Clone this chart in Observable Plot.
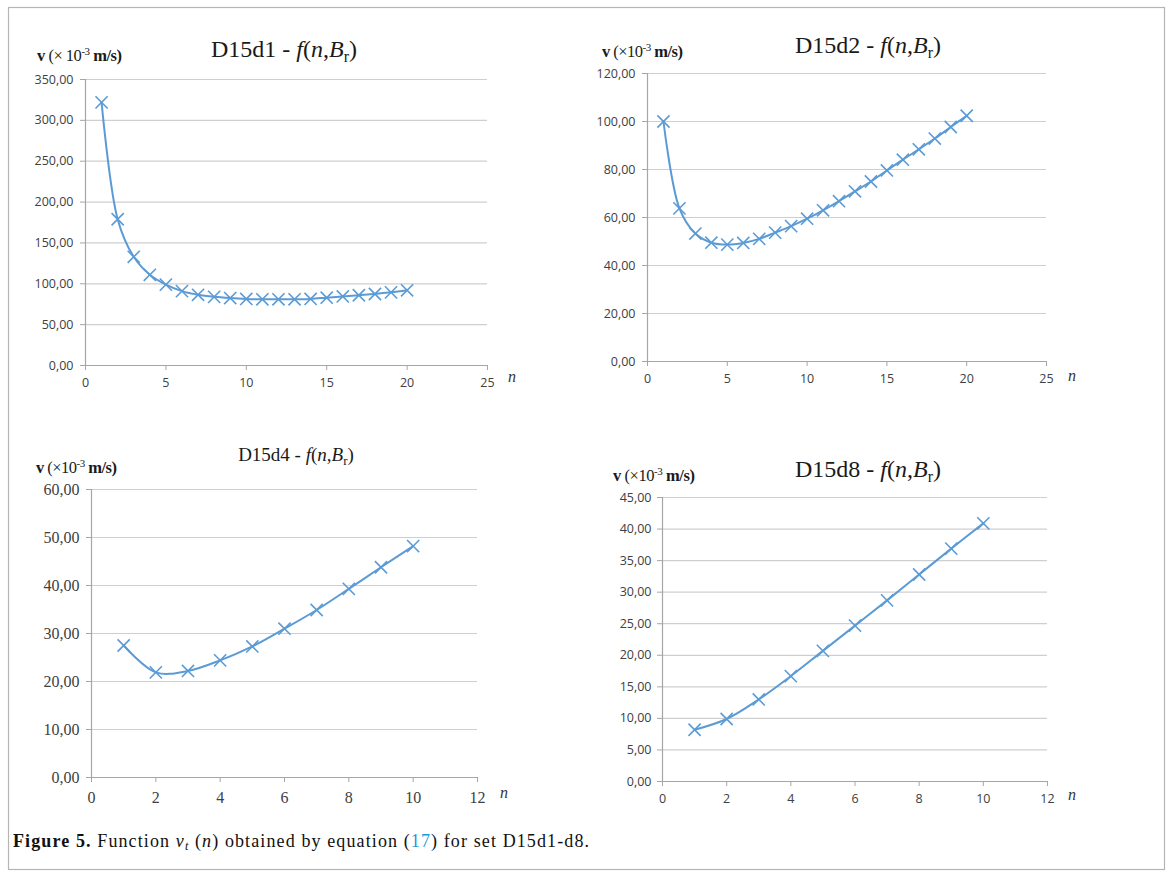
<!DOCTYPE html>
<html>
<head>
<meta charset="utf-8">
<script src="https://cdn.jsdelivr.net/npm/d3@7"></script>
<script src="https://cdn.jsdelivr.net/npm/@observablehq/plot@0.6"></script>
<style>
  html, body { margin: 0; padding: 0; background: #ffffff; }
  #root { position: relative; width: 1168px; height: 876px; overflow: hidden; background: #fff; }
  #root > svg.overlay { position: absolute; left: 0; top: 0; }
  .panel { position: absolute; }
  .panel svg { display: block; overflow: visible; }
</style>
</head>
<body>
<div id="root"></div>
<script>
// ---------------- data ----------------
const n20 = [1, 2, 3, 4, 5, 6, 7, 8, 9, 10, 11, 12, 13, 14, 15, 16, 17, 18, 19, 20];
const n10 = [1, 2, 3, 4, 5, 6, 7, 8, 9, 10];

const vD15d1 = [322, 179, 133, 111, 99, 91, 86.5, 84, 82.5, 81.5, 81, 81, 81, 81.5, 83, 84.5, 86, 87.5, 89.5, 92];
const vD15d2 = [100, 63.8, 53.3, 49.5, 48.7, 49.4, 51.1, 53.7, 56.4, 59.5, 63, 66.8, 70.9, 75, 79.6, 84.1, 88.4, 92.9, 97.7, 102.4];
const vD15d4 = [27.5, 21.9, 22.2, 24.4, 27.3, 31.0, 34.9, 39.3, 43.8, 48.2];
const vD15d8 = [8.2, 9.9, 13.0, 16.7, 20.7, 24.7, 28.7, 32.8, 36.9, 40.9];

const xTicks25 = [0, 5, 10, 15, 20, 25];
const xTicks12 = [0, 2, 4, 6, 8, 10, 12];
const yTicksD1 = [0, 50, 100, 150, 200, 250, 300, 350];
const yTicksD2 = [0, 20, 40, 60, 80, 100, 120];
const yTicksD4 = [0, 10, 20, 30, 40, 50, 60];
const yTicksD8 = [0, 5, 10, 15, 20, 25, 30, 35, 40, 45];

const titles = ["D15d1", "D15d2", "D15d4", "D15d8"];

// ---------------- layout ----------------
const root = document.getElementById("root");
const LINE = "#5b9bd5";
const GRID = "#cfcfcf";
const AXIS = "#a6a6a6";
const LABEL = "#404040";
const fmt = d => d3.format(".2f")(d).replace(".", ",");

const SANS = "Open Sans";
const SERIF = "Liberation Serif";

const panels = [
  { n: n20, v: vD15d1, xt: xTicks25, yt: yTicksD1, xd: [0, 25], yd: [0, 350],
    box: { l: 85, r: 487, t: 79, b: 365 }, font: SANS, fs: 12.5, ydx: -12, xdy: 17 },
  { n: n20, v: vD15d2, xt: xTicks25, yt: yTicksD2, xd: [0, 25], yd: [0, 120],
    box: { l: 647, r: 1046, t: 73, b: 361 }, font: SANS, fs: 12.5, ydx: -12, xdy: 17 },
  { n: n10, v: vD15d4, xt: xTicks12, yt: yTicksD4, xd: [0, 12], yd: [0, 60],
    box: { l: 91, r: 477, t: 489, b: 777 }, font: SERIF, fs: 16, ydx: -12, xdy: 20 },
  { n: n10, v: vD15d8, xt: xTicks12, yt: yTicksD8, xd: [0, 12], yd: [0, 45],
    box: { l: 662, r: 1047, t: 497, b: 781 }, font: SANS, fs: 12.5, ydx: -11, xdy: 17 }
];

const ML = 70, MR = 12, MT = 12, MB = 34;

panels.forEach(p => {
  const data = p.n.map((n, i) => ({ n, v: p.v[i] }));
  const w = p.box.r - p.box.l + ML + MR;
  const h = p.box.b - p.box.t + MT + MB;
  const chart = Plot.plot({
    width: w, height: h,
    marginLeft: ML, marginRight: MR, marginTop: MT, marginBottom: MB,
    x: { type: "linear", domain: p.xd },
    y: { type: "linear", domain: p.yd },
    style: { background: "transparent", overflow: "visible" },
    marks: [
      Plot.ruleY(p.yt.filter(d => d !== 0), { stroke: GRID, strokeWidth: 1.2 }),
      Plot.axisX({ ticks: p.xt, tickSize: 5, tickFormat: () => "", label: null, stroke: AXIS }),
      Plot.axisY({ ticks: p.yt, tickSize: 5, tickFormat: () => "", label: null, stroke: AXIS }),
      Plot.text(p.yt, { x: p.xd[0], y: d => d, text: fmt, textAnchor: "end", dx: p.ydx,
        fontSize: p.fs, fontFamily: p.font, fill: LABEL }),
      Plot.text(p.xt, { x: d => d, y: p.yd[0], text: d => String(d), dy: p.xdy,
        fontSize: p.fs, fontFamily: p.font, fill: LABEL }),
      Plot.ruleX([p.xd[0]], { stroke: AXIS, strokeWidth: 1.2 }),
      Plot.ruleY([p.yd[0]], { stroke: AXIS, strokeWidth: 1.2 }),
      Plot.line(data, { x: "n", y: "v", curve: "catmull-rom", stroke: LINE, strokeWidth: 2 }),
      Plot.dot(data, { x: "n", y: "v", symbol: "times", r: 5.6, stroke: LINE, strokeWidth: 1.6 })
    ]
  });
  const div = document.createElement("div");
  div.className = "panel";
  div.style.left = (p.box.l - ML) + "px";
  div.style.top = (p.box.t - MT) + "px";
  div.appendChild(chart);
  root.appendChild(div);
});

// ---------------- text overlay ----------------
const NS = "http://www.w3.org/2000/svg";
const ov = document.createElementNS(NS, "svg");
ov.setAttribute("class", "overlay");
ov.setAttribute("width", 1168);
ov.setAttribute("height", 876);
ov.style.pointerEvents = "none";
root.appendChild(ov);

function frame() {
  const r = document.createElementNS(NS, "rect");
  r.setAttribute("x", 8.5); r.setAttribute("y", 7.5);
  r.setAttribute("width", 1156); r.setAttribute("height", 862);
  r.setAttribute("fill", "none"); r.setAttribute("stroke", "#b5b5b5"); r.setAttribute("stroke-width", 1.2);
  ov.appendChild(r);
}
frame();

function addText(x, y, html, opts = {}) {
  const t = document.createElementNS(NS, "text");
  t.setAttribute("x", x); t.setAttribute("y", y);
  t.setAttribute("font-family", opts.font || SERIF);
  t.setAttribute("font-size", opts.size || 15);
  t.setAttribute("fill", opts.fill || "#1a1a1a");
  if (opts.anchor) t.setAttribute("text-anchor", opts.anchor);
  if (opts.style) t.setAttribute("font-style", opts.style);
  if (opts.length) { t.setAttribute("textLength", opts.length); t.setAttribute("lengthAdjust", "spacing"); }
  t.innerHTML = html;
  ov.appendChild(t);
  return t;
}

function titleHTML(name, fs) {
  const sub = Math.round(fs * 0.68);
  const d = Math.round(fs * 0.22);
  return `${name} - <tspan font-style="italic">f</tspan>(<tspan font-style="italic">n</tspan>,<tspan font-style="italic">B</tspan><tspan font-size="${sub}" dy="${d}">r</tspan><tspan dy="${-d}">)</tspan>`;
}
function ylabHTML(space) {
  return `<tspan font-weight="bold">v</tspan> (×${space ? " " : ""}10<tspan font-size="11" dy="-6">-3</tspan><tspan dy="6" font-weight="bold"> m/s)</tspan>`;
}

// titles
addText(284, 57, titleHTML(titles[0], 24), { size: 24, anchor: "middle" });
addText(868, 53, titleHTML(titles[1], 24), { size: 24, anchor: "middle" });
addText(296, 461, titleHTML(titles[2], 19), { size: 19, anchor: "middle" });
addText(868, 477, titleHTML(titles[3], 24), { size: 24, anchor: "middle" });

// y labels
addText(37, 61, ylabHTML(true), { size: 16.5, length: 85 });
addText(602, 57, ylabHTML(false), { size: 16.5, length: 81 });
addText(36, 473, ylabHTML(false), { size: 16.5, length: 81 });
addText(613, 481, ylabHTML(false), { size: 16.5, length: 82 });

// x labels
addText(512, 382, "n", { size: 16, style: "italic", anchor: "middle", fill: "#333" });
addText(1072, 381, "n", { size: 16, style: "italic", anchor: "middle", fill: "#333" });
addText(504, 798, "n", { size: 16, style: "italic", anchor: "middle", fill: "#333" });
addText(1072, 800, "n", { size: 16, style: "italic", anchor: "middle", fill: "#333" });

// caption
addText(13, 847,
  `<tspan font-weight="bold">Figure 5.</tspan> Function <tspan font-style="italic">v</tspan><tspan font-style="italic" font-size="12" dy="3">t</tspan><tspan dy="-3"> (</tspan><tspan font-style="italic">n</tspan>) obtained by equation (<tspan fill="#1a9bd7">17</tspan>) for set D15d1-d8.`,
  { size: 18, fill: "#111", length: 576 });
</script>
</body>
</html>
